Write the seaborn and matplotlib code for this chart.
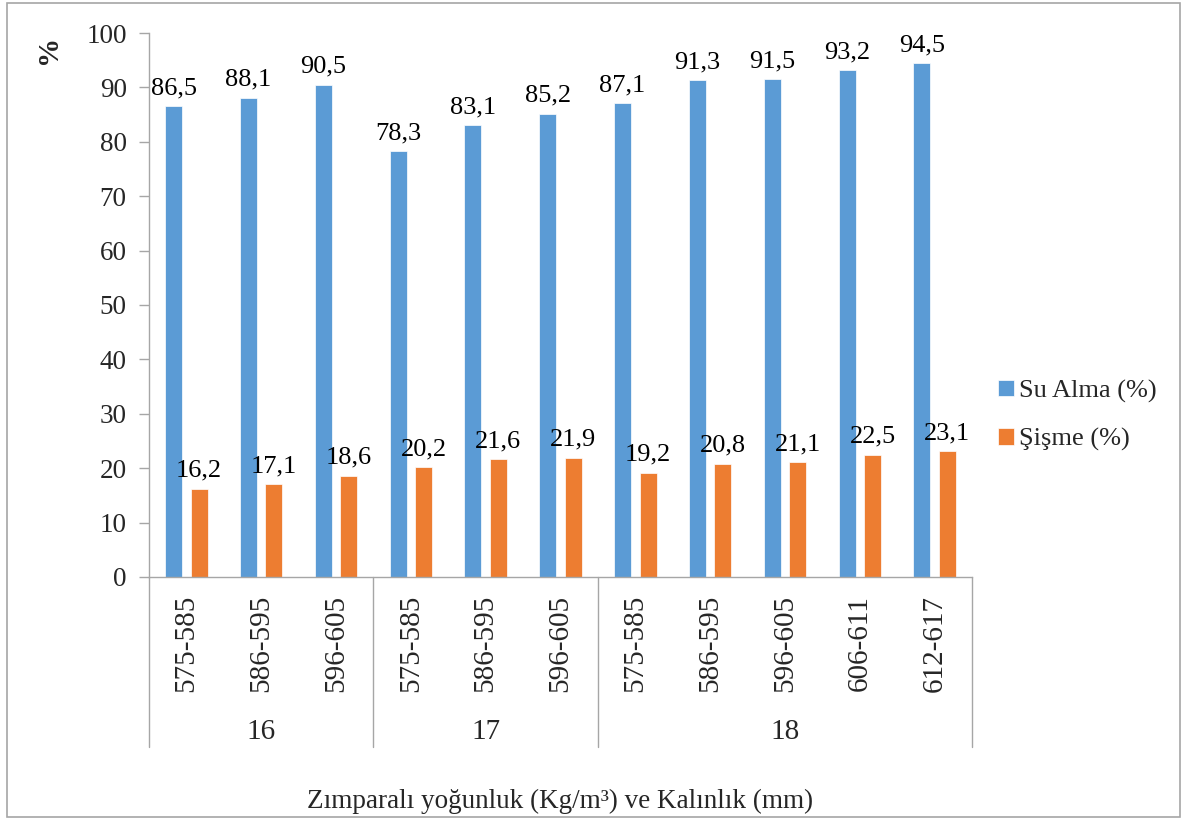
import matplotlib
matplotlib.use("Agg")
import matplotlib.pyplot as plt
import matplotlib.transforms as mtransforms
from matplotlib.patches import Rectangle
import numpy as np
import pandas as pd
import seaborn as sns

# data
thickness = ["16", "16", "16", "17", "17", "17", "18", "18", "18", "18", "18"]
density = ["575-585", "586-595", "596-605",
           "575-585", "586-595", "596-605",
           "575-585", "586-595", "596-605", "606-611", "612-617"]
su_alma = [86.5, 88.1, 90.5, 78.3, 83.1, 85.2, 87.1, 91.3, 91.5, 93.2, 94.5]
sisme = [16.2, 17.1, 18.6, 20.2, 21.6, 21.9, 19.2, 20.8, 21.1, 22.5, 23.1]
series = ["Su Alma (%)", "Şişme (%)"]

BLUE = "#5B9BD5"
ORANGE = "#ED7D31"
GREY = "#A6A6A6"

sns.set_theme(style="white")
plt.rcParams["font.family"] = ["Liberation Serif", "DejaVu Serif"]

keys = [f"{t}|{d}" for t, d in zip(thickness, density)]
df = pd.DataFrame({
    "key": keys * 2,
    "value": su_alma + sisme,
    "series": [series[0]] * len(keys) + [series[1]] * len(keys),
})

fig = plt.figure(figsize=(11.84, 8.19), dpi=100)
ax = fig.add_axes([0.1258, 0.2955, 0.821 - 0.1258, 0.9597 - 0.2955])

sns.barplot(data=df, x="key", y="value", hue="series", order=keys,
            hue_order=series, palette=[BLUE, ORANGE], width=0.68, gap=0.33,
            saturation=1, edgecolor="white", linewidth=0.5, ax=ax)

for cont in ax.containers:
    ax.bar_label(cont, labels=[f"{b.get_height():.1f}".replace(".", ",") for b in cont],
                 padding=5, fontsize=19, color="black")

ax.set_ylim(0, 100)
ax.set_yticks(np.arange(0, 101, 10))
ax.set_xlim(-0.5, len(keys) - 0.5)
ax.set_xlabel("")
ax.set_ylabel("")
ax.set_xticks(range(len(keys)))
ax.set_xticklabels(density, rotation=90, fontsize=21)
ax.tick_params(axis="x", length=0, pad=13)
ax.tick_params(axis="y", length=7, width=1, color=GREY, labelsize=19.5, pad=9, left=True)

for side in ["top", "right"]:
    ax.spines[side].set_visible(False)
for side in ["left", "bottom"]:
    ax.spines[side].set_color(GREY)
    ax.spines[side].set_linewidth(1)

# second level of the x axis: thickness groups
trans = mtransforms.blended_transform_factory(ax.transData, ax.transAxes)
groups = list(dict.fromkeys(thickness))
bounds = [-0.5]
for g in groups:
    bounds.append(bounds[-1] + thickness.count(g))
for b in bounds:
    ax.plot([b, b], [0, -0.312], color=GREY, lw=1, transform=trans, clip_on=False)
for g, lo, hi in zip(groups, bounds[:-1], bounds[1:]):
    ax.text((lo + hi) / 2, -0.285, g, transform=trans, ha="center", va="center",
            fontsize=21)

ax.text(0.5, -0.412, "Zımparalı yoğunluk (Kg/m³) ve Kalınlık (mm)", transform=ax.transAxes,
        ha="center", va="center", fontsize=19.5)
fig.text(0.041, 0.94, "%", rotation=90, ha="center", va="center", fontsize=21,
         fontweight="bold")

handles, labels = ax.get_legend_handles_labels()
ax.legend(handles, labels, loc="center left", bbox_to_anchor=(0.834, 0.493),
          bbox_transform=fig.transFigure, frameon=False, fontsize=19,
          handlelength=0.6, handleheight=0.6, handletextpad=0.2, labelspacing=0.95,
          borderaxespad=0)

fig.patches.append(Rectangle((0.006, 0.003), 0.991, 0.993, transform=fig.transFigure,
                             fill=False, edgecolor=GREY, lw=1.2))

fig.savefig("out.png", dpi=100)
